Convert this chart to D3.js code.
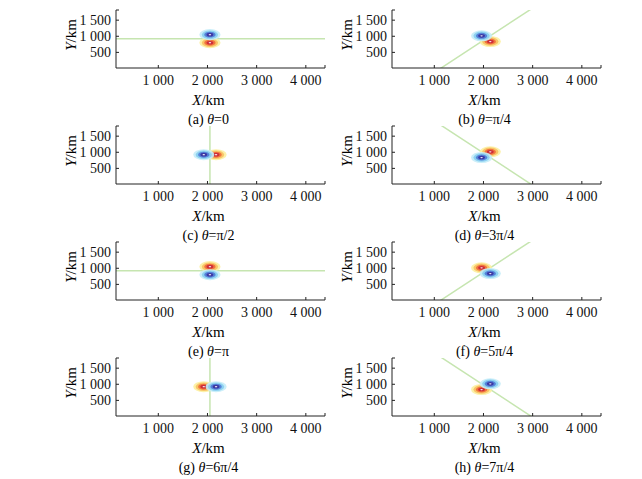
<!DOCTYPE html><html><head><meta charset="utf-8">
<script src="https://cdn.jsdelivr.net/npm/d3@7"></script>
<style>body{margin:0;background:#fff}svg text{font-family:"Liberation Serif",serif !important}</style></head><body>
<svg id="c" width="642" height="479"></svg>
<script>
const captionPre=["(a) ","(b) ","(c) ","(d) ","(e) ","(f) ","(g) ","(h) "];
const captionVal=["=0","=π/4","=π/2","=3π/4","=π","=5π/4","=6π/4","=7π/4"];
const thetas=[0,Math.PI/4,Math.PI/2,3*Math.PI/4,Math.PI,5*Math.PI/4,6*Math.PI/4,7*Math.PI/4];
const xTicks=[1000,2000,3000,4000];
const yTicks=[500,1000,1500];
const xDomain=[150,4400], yDomain=[0,1800];
const center=[2060,910];
const offset=125;
const radii=[215,165,115,70,25];
const blueCols=["#c4ecf8","#86cdf0","#4f7ad6","#3a2f9c","#ffffff"];
const redCols=["#fcf0a0","#f8c060","#ef6a3a","#c8263a","#ffffff"];
const fmt=d=>d3.format(",")(d).replace(/,/g," ");
const svg=d3.select("#c");
const W=209,H=58;
thetas.forEach((th,i)=>{
  const col=i%2,row=Math.floor(i/2);
  const x0=col?392:116, y0=10+row*116;
  const g=svg.append("g").attr("transform",`translate(${x0},${y0})`);
  const x=d3.scaleLinear().domain(xDomain).range([0,W]);
  const y=d3.scaleLinear().domain(yDomain).range([H,0]);
  const cid="clip"+i;
  g.append("clipPath").attr("id",cid).append("rect").attr("width",W).attr("height",H);
  const pg=g.append("g").attr("clip-path",`url(#${cid})`);
  const L=6000,dx=Math.cos(th),dy=Math.sin(th);
  pg.append("line").attr("x1",x(center[0]-L*dx)).attr("y1",y(center[1]-L*dy))
    .attr("x2",x(center[0]+L*dx)).attr("y2",y(center[1]+L*dy))
    .attr("stroke","#c6e5b0").attr("stroke-width",1.5);
  const pb=[center[0]+offset*Math.cos(th+Math.PI/2),center[1]+offset*Math.sin(th+Math.PI/2)];
  const pr=[center[0]+offset*Math.cos(th-Math.PI/2),center[1]+offset*Math.sin(th-Math.PI/2)];
  [[pr,redCols],[pb,blueCols]].forEach(([p,cols])=>{
    radii.forEach((r,k)=>{
      pg.append("ellipse").attr("cx",x(p[0])).attr("cy",y(p[1]))
        .attr("rx",x(xDomain[0]+r)-x(xDomain[0])).attr("ry",y(yDomain[0])-y(yDomain[0]+r*0.8))
        .attr("fill",cols[k]).attr("fill-opacity",0.9);
    });
  });
  const xa=g.append("g").attr("transform",`translate(0,${H})`)
    .call(d3.axisBottom(x).tickValues(xTicks).tickSize(-3).tickFormat(fmt).tickPadding(7));
  const ya=g.append("g").call(d3.axisLeft(y).tickValues(yTicks).tickSize(-3).tickFormat(fmt).tickPadding(5));
  [xa,ya].forEach(a=>{a.attr("font-family",null);a.select(".domain").attr("stroke","#222");a.selectAll("line").attr("stroke","#222");
    a.selectAll("text").attr("font-size",14).attr("fill","#111");});
  ya.select(".domain").attr("d",`M3,0H0V${H}`);
  xa.select(".domain").attr("d",`M0,0H${W}V-3`);
  g.append("text").attr("x",W/2-12).attr("y",H+37).attr("text-anchor","middle").attr("font-size",15)
    .html('<tspan font-style="italic">X</tspan>/km');
  g.append("text").attr("transform",`translate(-40,${H/2-4}) rotate(-90)`).attr("text-anchor","middle").attr("font-size",15)
    .html('<tspan font-style="italic">Y</tspan>/km');
  g.append("text").attr("x",W/2-12).attr("y",H+56).attr("text-anchor","middle").attr("font-size",14)
    .html(captionPre[i]+'<tspan font-style="italic">θ</tspan>'+captionVal[i]);
});
</script></body></html>
